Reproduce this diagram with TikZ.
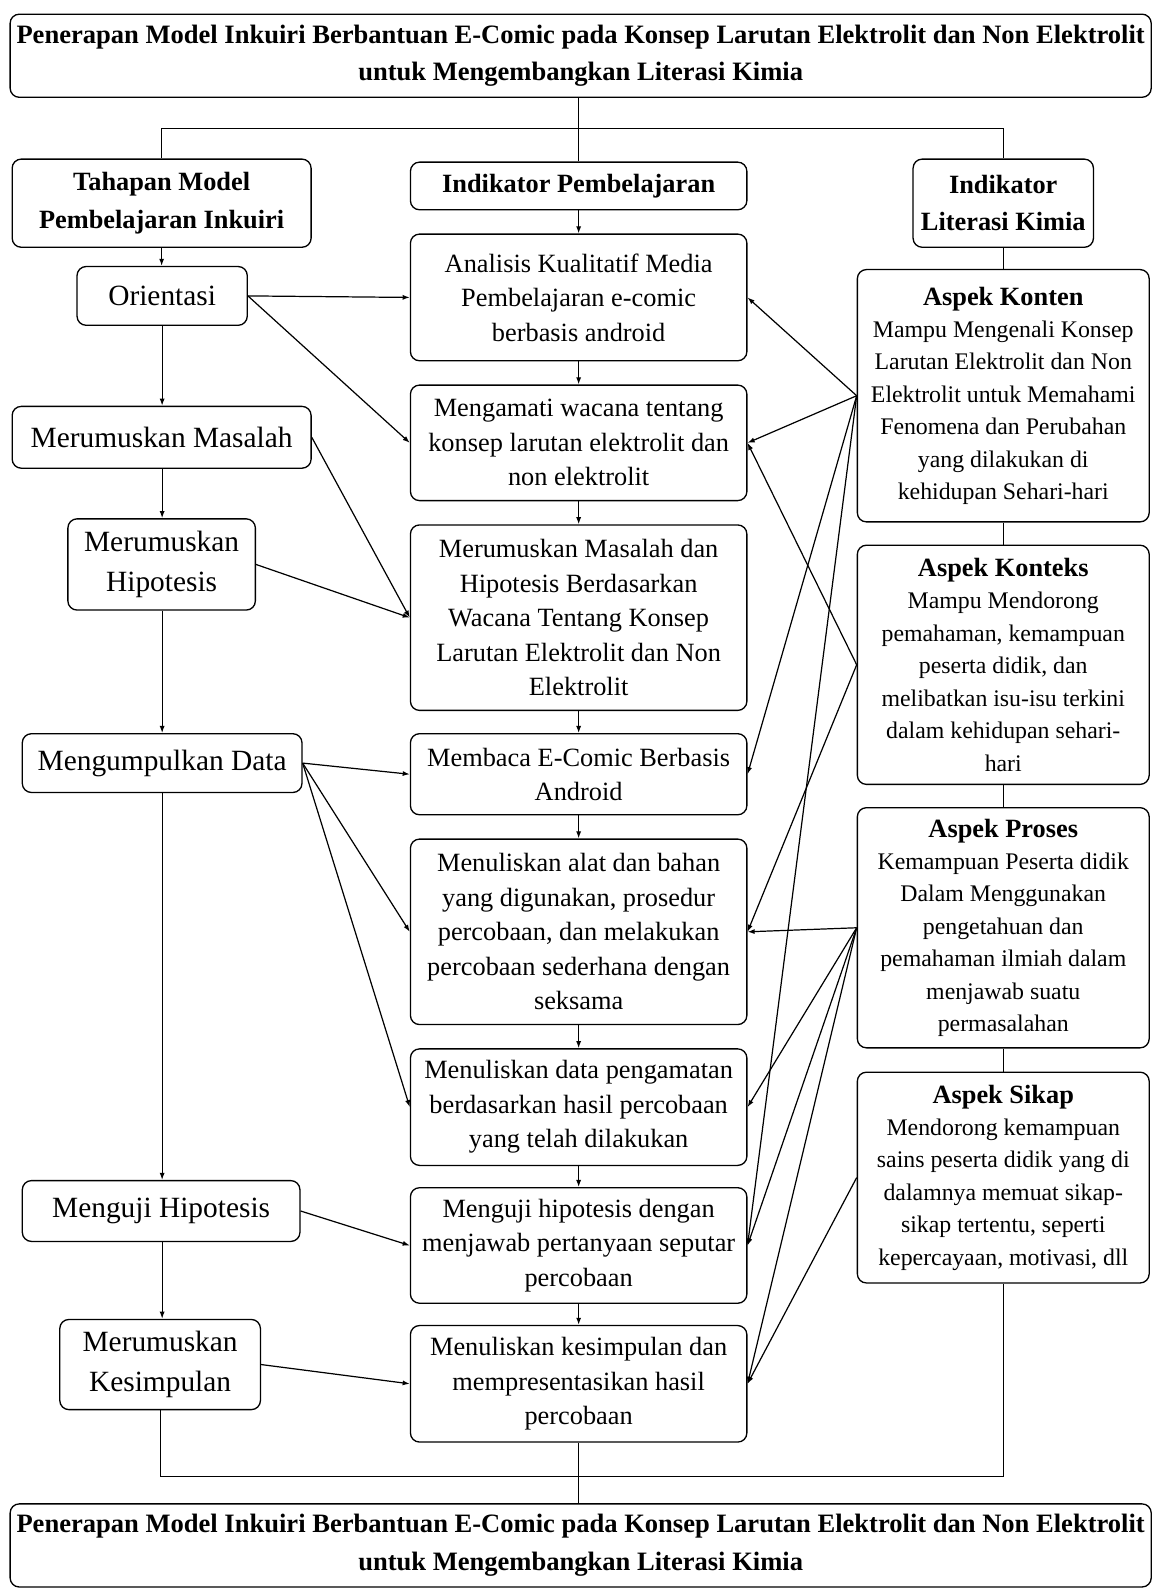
\documentclass[tikz,border=0pt]{standalone}
\usepackage{fontspec}
\setmainfont{Liberation Serif}
\usetikzlibrary{arrows.meta}
\begin{document}
\begin{tikzpicture}[x=1pt,y=-1pt,
  box/.style={draw, line width=1.3pt, rounded corners=9pt, align=center, inner sep=2pt},
  midbox/.style={box, minimum width=332pt, font=\fontsize{26}{34}\selectfont},
  leftbox/.style={box, font=\fontsize{29}{39}\selectfont},
  rightbox/.style={box, minimum width=288pt, font=\fontsize{23.5}{32}\selectfont},
  headbox/.style={box, font=\bfseries\fontsize{26}{37}\selectfont},
  titlebox/.style={box, minimum width=1126pt, minimum height=82pt, font=\bfseries\fontsize{26.2}{37}\selectfont},
  conn/.style={line width=1.2pt},
  arr/.style={line width=1.2pt, -{Latex[length=7pt,width=5pt]}}
]
\useasboundingbox (0,0) rectangle (1138,1568);

% titles
\node[titlebox] (title) at (573,55) {Penerapan Model Inkuiri Berbantuan E-Comic pada Konsep Larutan Elektrolit dan Non Elektrolit\\untuk Mengembangkan Literasi Kimia};
\node[titlebox] (bottom) at (573,1525) {Penerapan Model Inkuiri Berbantuan E-Comic pada Konsep Larutan Elektrolit dan Non Elektrolit\\untuk Mengembangkan Literasi Kimia};

% headers
\node[headbox, minimum width=295pt, minimum height=87pt] (tahapan) at (159.5,200.5) {Tahapan Model\\Pembelajaran Inkuiri};
\node[headbox, minimum width=332pt, minimum height=47pt] (indp) at (571,183.5) {Indikator Pembelajaran};
\node[headbox, minimum width=178pt, minimum height=87pt] (indl) at (990,200.5) {Indikator\\Literasi Kimia};

% left column
\node[leftbox, minimum width=168pt, minimum height=58pt] (ori) at (160,292) {Orientasi};
\node[leftbox, minimum width=295pt, minimum height=61pt] (mm) at (159.5,431.5) {Merumuskan Masalah};
\node[leftbox, minimum width=185pt, minimum height=90pt] (mh) at (159.5,557) {Merumuskan\\Hipotesis};
\node[leftbox, minimum width=276pt, minimum height=58pt] (md) at (160,753) {Mengumpulkan Data};
\node[leftbox, minimum width=274pt, minimum height=60pt] (mu) at (159,1195) {Menguji Hipotesis};
\node[leftbox, minimum width=198pt, minimum height=89pt] (mk) at (158,1346.5) {Merumuskan\\Kesimpulan};

% middle column
\node[midbox, minimum height=125pt] (a) at (571,293.5) {Analisis Kualitatif Media\\Pembelajaran e-comic\\berbasis android};
\node[midbox, minimum height=114pt] (b) at (571,437) {Mengamati wacana tentang\\konsep larutan elektrolit dan\\non elektrolit};
\node[midbox, minimum height=183pt] (c) at (571,609.5) {Merumuskan Masalah dan\\Hipotesis Berdasarkan\\Wacana Tentang Konsep\\Larutan Elektrolit dan Non\\Elektrolit};
\node[midbox, minimum height=80pt] (d) at (571,764) {Membaca E-Comic Berbasis\\Android};
\node[midbox, minimum height=183pt] (e) at (571,919.5) {Menuliskan alat dan bahan\\yang digunakan, prosedur\\percobaan, dan melakukan\\percobaan sederhana dengan\\seksama};
\node[midbox, minimum height=115pt] (f) at (571,1092.5) {Menuliskan data pengamatan\\berdasarkan hasil percobaan\\yang telah dilakukan};
\node[midbox, minimum height=114pt] (g) at (571,1229) {Menguji hipotesis dengan\\menjawab pertanyaan seputar\\percobaan};
\node[midbox, minimum height=115pt] (h) at (571,1365.5) {Menuliskan kesimpulan dan\\mempresentasikan hasil\\percobaan};

% right column
\node[rightbox, minimum height=249pt] (konten) at (990,390.5) {{\bfseries\fontsize{26}{34}\selectfont Aspek Konten}\\Mampu Mengenali Konsep\\Larutan Elektrolit dan Non\\Elektrolit untuk Memahami\\Fenomena dan Perubahan\\yang dilakukan di\\kehidupan Sehari-hari};
\node[rightbox, minimum height=236pt] (konteks) at (990,656) {{\bfseries\fontsize{26}{34}\selectfont Aspek Konteks}\\Mampu Mendorong\\pemahaman, kemampuan\\peserta didik, dan\\melibatkan isu-isu terkini\\dalam kehidupan sehari-\\hari};
\node[rightbox, minimum height=237pt] (proses) at (990,915.5) {{\bfseries\fontsize{26}{34}\selectfont Aspek Proses}\\Kemampuan Peserta didik\\Dalam Menggunakan\\pengetahuan dan\\pemahaman ilmiah dalam\\menjawab suatu\\permasalahan};
\node[rightbox, minimum height=208pt] (sikap) at (990,1162) {{\bfseries\fontsize{26}{34}\selectfont Aspek Sikap}\\Mendorong kemampuan\\sains peserta didik yang di\\dalamnya memuat sikap-\\sikap tertentu, seperti\\kepercayaan, motivasi, dll};

% top connectors
\coordinate (jt) at (571,127);
\coordinate (jb) at (571,1457);
\draw[conn] (title.south -| indp.north) -- (indp.north);
\draw[conn] (tahapan.north) |- (jt) -| (indl.north);
% bottom connectors
\draw[conn] (mk.south) |- (jb) -| (sikap.south);
\draw[conn] (h.south) -- (bottom.north -| h.south);

% right column plain lines
\draw[conn] (indl.south) -- (konten.north);
\draw[conn] (konten.south) -- (konteks.north);
\draw[conn] (konteks.south) -- (proses.north);
\draw[conn] (proses.south) -- (sikap.north);

% vertical arrows left column
\draw[arr] (tahapan.south) -- (ori.north -| tahapan.south);
\draw[arr] (ori.south) -- (mm.north -| ori.south);
\draw[arr] (mm.south -| ori.south) -- (mh.north -| ori.south);
\draw[arr] (mh.south -| ori.south) -- (md.north -| ori.south);
\draw[arr] (md.south -| ori.south) -- (mu.north -| ori.south);
\draw[arr] (mu.south -| ori.south) -- (mk.north -| ori.south);

% vertical arrows middle column
\draw[arr] (indp.south) -- (a.north);
\draw[arr] (a.south) -- (b.north);
\draw[arr] (b.south) -- (c.north);
\draw[arr] (c.south) -- (d.north);
\draw[arr] (d.south) -- (e.north);
\draw[arr] (e.south) -- (f.north);
\draw[arr] (f.south) -- (g.north);
\draw[arr] (g.south) -- (h.north);

% left to middle
\draw[arr] (ori.east) -- (a.west);
\draw[arr] (ori.east) -- (b.west);
\draw[arr] (mm.east) -- (c.west);
\draw[arr] (mh.east) -- (c.west);
\draw[arr] (md.east) -- (d.west);
\draw[arr] (md.east) -- (e.west);
\draw[arr] (md.east) -- (f.west);
\draw[arr] (mu.east) -- (g.west);
\draw[arr] (mk.east) -- (h.west);

% right to middle
\draw[arr] (konten.west) -- (a.east);
\draw[arr] (konten.west) -- (b.east);
\draw[arr] (konten.west) -- (d.east);
\draw[arr] (konten.west) -- (g.east);
\draw[arr] (konteks.west) -- (b.east);
\draw[arr] (konteks.west) -- (e.east);
\draw[arr] (proses.west) -- (e.east);
\draw[arr] (proses.west) -- (f.east);
\draw[arr] (proses.west) -- (g.east);
\draw[arr] (proses.west) -- (h.east);
\draw[arr] (sikap.west) -- (h.east);
\end{tikzpicture}
\end{document}
